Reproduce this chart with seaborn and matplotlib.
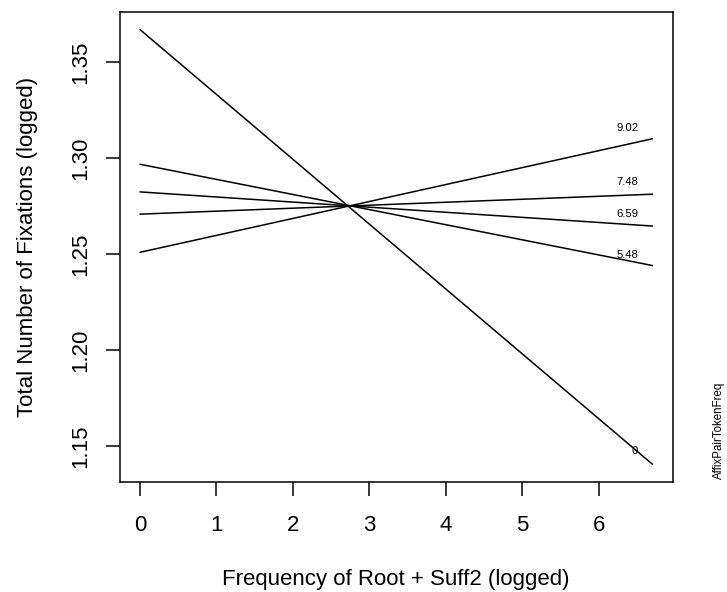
import matplotlib
matplotlib.use("Agg")
import matplotlib.pyplot as plt
import seaborn as sns
import pandas as pd

# Fitted fixation counts at the two ends of the frequency range,
# one line per level of the affix-pair token frequency
freq_range = [0.0, 6.7]
levels = ["0", "5.48", "6.59", "7.48", "9.02"]
start_vals = [1.3671, 1.2969, 1.2825, 1.2709, 1.2510]
end_vals = [1.1405, 1.2441, 1.2647, 1.2813, 1.3102]
# where each level's label sits (x of its right edge, y centre)
label_x = 6.515
label_y = [1.1472, 1.2498, 1.2709, 1.2877, 1.3159]

rows = []
for lev, y0, y1 in zip(levels, start_vals, end_vals):
    rows.append({"freq": freq_range[0], "fix": y0, "level": lev})
    rows.append({"freq": freq_range[1], "fix": y1, "level": lev})
df = pd.DataFrame(rows)

sns.set_theme(style="white")
plt.rcParams["font.family"] = ["Liberation Sans", "DejaVu Sans"]

fig = plt.figure(figsize=(7.27, 5.92), dpi=100)
ax = fig.add_axes([119.5 / 727, 1 - 481.7 / 592, (673 - 119.5) / 727, (481.7 - 12.2) / 592])

sns.lineplot(data=df, x="freq", y="fix", hue="level",
             palette=["black"] * len(levels), estimator=None,
             legend=False, linewidth=1.1, ax=ax)

for lev, ly in zip(levels, label_y):
    ax.text(label_x, ly, lev, ha="right", va="center", fontsize=8.1, color="black")

ax.margins(x=0.04, y=0.04)
ax.set_xticks([0, 1, 2, 3, 4, 5, 6])
ax.set_yticks([1.15, 1.20, 1.25, 1.30, 1.35])
ax.set_yticklabels(["1.15", "1.20", "1.25", "1.30", "1.35"], rotation=90, va="center")

for s in ax.spines.values():
    s.set_visible(True)
    s.set_color("black")
    s.set_linewidth(1.1)

ax.tick_params(axis="both", direction="out", length=10, width=1.1, color="black",
               labelsize=16, labelcolor="black", left=True, bottom=True)
ax.tick_params(axis="x", pad=14)
ax.tick_params(axis="y", pad=10)

ax.set_xlabel("Frequency of Root + Suff2 (logged)", fontsize=16, color="black", labelpad=24)
ax.set_ylabel("Total Number of Fixations (logged)", fontsize=16, color="black", labelpad=23.5)

fig.text(719 / 727, 1 - 430 / 592, "AffixPairTokenFreq", rotation=90,
         ha="center", va="center", fontsize=8.3, color="black")

fig.savefig("out.png", dpi=100, facecolor="white")
